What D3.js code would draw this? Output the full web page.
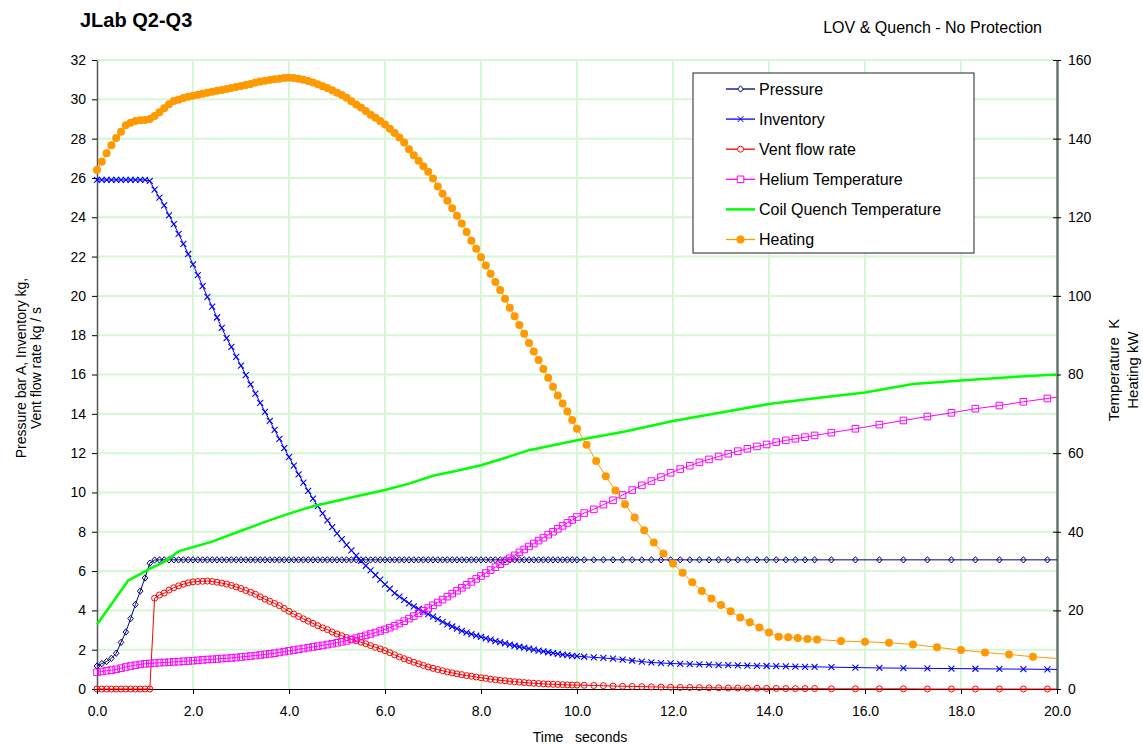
<!DOCTYPE html>
<html>
<head>
<meta charset="utf-8">
<script src="https://cdn.jsdelivr.net/npm/d3@7"></script>
<style>
  body { margin: 0; background: #fff; }
  svg { font-family: "Liberation Sans", Arial, sans-serif; }
</style>
</head>
<body>
<div id="chart"></div>
<script>
// time grid of the solver output (seconds)
var timeFine = [
  0,0.1,0.2,0.3,0.4,0.5,0.6,0.7,0.8,0.9,
  1,1.1,1.2,1.3,1.4,1.5,1.6,1.7,1.8,1.9,
  2,2.1,2.2,2.3,2.4,2.5,2.6,2.7,2.8,2.9,
  3,3.1,3.2,3.3,3.4,3.5,3.6,3.7,3.8,3.9,
  4,4.1,4.2,4.3,4.4,4.5,4.6,4.7,4.8,4.9,
  5,5.1,5.2,5.3,5.4,5.5,5.6,5.7,5.8,5.9,
  6,6.1,6.2,6.3,6.4,6.5,6.6,6.7,6.8,6.9,
  7,7.1,7.2,7.3,7.4,7.5,7.6,7.7,7.8,7.9,
  8,8.1,8.2,8.3,8.4,8.5,8.6,8.7,8.8,8.9,
  9,9.1,9.2,9.3,9.4,9.5,9.6,9.7,9.8,9.9,
  10
];
var timeMain = timeFine.concat([
  10.15,10.35,10.55,10.75,10.95,11.15,11.35,11.55,11.75,11.95,12.15,12.35,12.55,
  12.75,12.95,13.15,13.35,13.55,13.75,13.95,14.15,14.35,14.55,14.75,14.95,
  15.3,15.8,16.3,16.8,17.3,17.8,18.3,18.8,19.3,19.8,20.3
]);
var timeHeat = timeFine.concat([
  10.2,10.4,10.6,10.8,11,11.2,11.4,11.6,11.8,12,12.2,12.4,12.6,
  12.8,13,13.2,13.4,13.6,13.8,14,14.2,14.4,14.6,14.8,15,
  15.5,16,16.5,17,17.5,18,18.5,19,19.5,20.5
]);

// left axis series
var pressure = [
  1.17,1.29,1.4,1.56,1.82,2.37,2.9,3.58,4.3,4.98,
  5.65,6.4,6.56,6.57,6.57,6.57,6.57,6.57,6.57,6.57,
  6.57,6.57,6.57,6.57,6.57,6.57,6.57,6.57,6.57,6.57,
  6.57,6.57,6.57,6.57,6.57,6.57,6.57,6.57,6.57,6.57,
  6.57,6.57,6.57,6.57,6.57,6.57,6.57,6.57,6.57,6.57,
  6.57,6.57,6.57,6.57,6.57,6.57,6.57,6.57,6.57,6.57,
  6.57,6.57,6.57,6.57,6.57,6.57,6.57,6.57,6.57,6.57,
  6.57,6.57,6.57,6.57,6.57,6.57,6.57,6.57,6.57,6.57,
  6.57,6.57,6.57,6.57,6.57,6.57,6.57,6.57,6.57,6.57,
  6.57,6.57,6.57,6.57,6.57,6.57,6.57,6.57,6.57,6.57,
  6.57,
  6.57,6.57,6.57,6.57,6.57,6.57,6.57,6.57,6.57,6.57,6.57,6.57,6.57,
  6.57,6.57,6.57,6.57,6.57,6.57,6.57,6.57,6.57,6.57,6.57,6.57,
  6.57,6.57,6.57,6.57,6.57,6.57,6.57,6.57,6.57,6.57,6.57
];
var inventory = [
  25.9,25.9,25.9,25.9,25.9,25.9,25.9,25.9,25.9,25.9,
  25.9,25.85,25.4,25.0,24.6,24.1,23.65,23.15,22.65,22.13,
  21.6,21.05,20.5,19.95,19.45,18.9,18.37,17.85,17.4,16.9,
  16.45,15.97,15.5,15.03,14.56,14.1,13.64,13.18,12.72,12.26,
  11.8,11.36,10.92,10.5,10.08,9.68,9.3,8.93,8.58,8.24,
  7.92,7.62,7.33,7.05,6.78,6.52,6.27,6.03,5.8,5.57,
  5.32,5.1,4.88,4.7,4.53,4.36,4.2,4.07,3.94,3.81,
  3.68,3.55,3.42,3.29,3.18,3.07,2.96,2.87,2.79,2.72,
  2.65,2.58,2.51,2.44,2.38,2.32,2.26,2.2,2.15,2.1,
  2.05,2.0,1.95,1.91,1.87,1.83,1.79,1.75,1.72,1.69,
  1.67,
  1.64,1.61,1.58,1.54,1.5,1.45,1.39,1.35,1.32,1.3,1.28,1.27,1.25,
  1.24,1.22,1.21,1.2,1.19,1.18,1.17,1.16,1.15,1.14,1.13,1.13,
  1.11,1.09,1.07,1.06,1.05,1.04,1.03,1.02,1.01,1.0,0.99
];
var ventFlow = [
  0,0,0,0,0,0,0,0,0,0,
  0,0,4.62,4.78,4.88,5.03,5.15,5.25,5.33,5.4,
  5.45,5.47,5.48,5.49,5.47,5.43,5.39,5.34,5.27,5.19,
  5.11,5.01,4.92,4.82,4.69,4.57,4.46,4.35,4.24,4.1,
  3.95,3.81,3.69,3.57,3.45,3.34,3.22,3.11,3.02,2.9,
  2.8,2.71,2.62,2.53,2.46,2.38,2.3,2.21,2.12,2.04,
  1.95,1.85,1.74,1.63,1.54,1.45,1.36,1.28,1.2,1.12,
  1.05,0.99,0.93,0.87,0.82,0.77,0.73,0.68,0.65,0.61,
  0.57,0.54,0.5,0.47,0.44,0.42,0.39,0.37,0.35,0.33,
  0.31,0.29,0.28,0.26,0.25,0.24,0.23,0.22,0.21,0.2,
  0.2,
  0.19,0.18,0.17,0.15,0.14,0.13,0.12,0.11,0.1,0.09,0.08,0.08,0.07,
  0.06,0.06,0.05,0.05,0.04,0.04,0.03,0.03,0.02,0.02,0.02,0.02,
  0.01,0.01,0.01,0.01,0,0,0,0,0,0,0
];

// right axis series
var heliumTemp = [
  4.25,4.45,4.65,4.8,5.0,5.3,5.6,5.85,6.05,6.25,
  6.4,6.5,6.6,6.7,6.75,6.8,6.9,6.95,7.05,7.1,
  7.2,7.3,7.4,7.5,7.55,7.65,7.75,7.8,7.9,8.0,
  8.15,8.25,8.4,8.5,8.65,8.8,8.95,9.1,9.3,9.5,
  9.7,9.9,10.1,10.3,10.5,10.7,10.9,11.1,11.3,11.5,
  11.75,12.0,12.25,12.6,12.95,13.3,13.65,14.0,14.35,14.75,
  15.15,15.6,16.1,16.65,17.25,17.9,18.55,19.25,19.9,20.6,
  21.3,22.0,22.75,23.5,24.25,25.0,25.75,26.5,27.25,28.0,
  28.75,29.5,30.25,31.0,31.75,32.5,33.25,34.0,34.75,35.5,
  36.25,37.0,37.75,38.5,39.25,40.0,40.75,41.5,42.25,43.0,
  43.75,
  44.75,45.7,46.9,48.0,49.35,50.6,51.8,52.9,53.9,55.0,55.95,56.8,57.65,
  58.4,59.15,59.85,60.5,61.1,61.7,62.2,62.8,63.25,63.65,64.05,64.5,
  65.2,66.2,67.25,68.3,69.3,70.25,71.3,72.1,73.05,73.9,74.7
];
var coilTime = [0,0.65,0.9,1.1,1.4,1.7,2,2.4,3,3.5,4,4.5,5,5.5,6,6.5,7,7.5,8,8.5,9,9.5,10,11,12,13,14,15,16,17,18,19,20];
var coilTemp = [16.4,27.6,29.2,30.6,32.35,35.0,36.1,37.5,40.25,42.5,44.6,46.5,47.9,49.3,50.6,52.25,54.25,55.5,56.9,58.75,60.75,62.0,63.25,65.5,68.15,70.35,72.5,74.0,75.4,77.6,78.45,79.3,80.0];
var heating = [
  132,134.1,136.3,138.3,140.15,141.75,143.4,144.05,144.5,144.65,
  144.75,145,145.75,146.7,147.7,148.75,149.55,149.9,150.35,150.65,
  150.9,151.15,151.4,151.65,151.9,152.15,152.4,152.65,152.9,153.15,
  153.4,153.65,153.9,154.25,154.5,154.7,154.9,155.1,155.25,155.4,
  155.5,155.45,155.25,155.0,154.65,154.25,153.8,153.35,152.85,152.3,
  151.7,151.1,150.4,149.5,148.7,147.9,147.05,146.1,145.3,144.5,
  143.6,142.5,141.4,140.3,139.0,137.3,135.75,134.4,133.0,131.55,
  129.85,127.85,126.0,124.2,122.3,120.35,118.4,116.25,114.0,112.0,
  109.85,107.75,105.65,103.5,101.5,99.25,97.0,94.8,92.6,90.35,
  88.0,85.85,83.7,81.4,79.15,76.9,74.65,72.6,70.6,68.4,
  66.2,
  62.15,58.0,54.1,50.5,47.0,43.6,40.4,37.25,34.45,31.9,29.55,27.15,24.95,
  23.05,21.35,19.8,18.2,16.95,15.65,14.4,13.3,13.15,12.95,12.75,12.6,
  12.2,12.0,11.75,11.35,10.6,9.9,9.3,8.8,8.2,7.3
];

var xTicks = [0,2,4,6,8,10,12,14,16,18,20];
var leftTicks = [0,2,4,6,8,10,12,14,16,18,20,22,24,26,28,30,32];
var rightTicks = [0,20,40,60,80,100,120,140,160];
var legendNames = ["Pressure","Inventory","Vent flow rate","Helium Temperature","Coil Quench Temperature","Heating"];

var svgWidth = 1143;
var svgHeight = 745;
var margin = { top: 60, right: 86, bottom: 56, left: 97 };
var width = svgWidth - margin.left - margin.right;
var height = svgHeight - margin.top - margin.bottom;

var svg = d3.select("#chart").append("svg")
  .attr("width", svgWidth)
  .attr("height", svgHeight);

var chartGroup = svg.append("g")
  .attr("transform", `translate(${margin.left}, ${margin.top})`);

var xScale = d3.scaleLinear().domain([0, 20]).range([0, width]);
var yLeft = d3.scaleLinear().domain([0, 32]).range([height, 0]);
var yRight = d3.scaleLinear().domain([0, 160]).range([height, 0]);

// grid
chartGroup.append("g").selectAll("line")
  .data(leftTicks.filter(d => d > 0))
  .enter().append("line")
  .attr("x1", 0).attr("x2", width)
  .attr("y1", d => yLeft(d)).attr("y2", d => yLeft(d))
  .attr("stroke", "#d6f7d6").attr("stroke-width", 2);
chartGroup.append("g").selectAll("line")
  .data(xTicks.filter(d => d > 0 && d < 20))
  .enter().append("line")
  .attr("y1", 0).attr("y2", height)
  .attr("x1", d => xScale(d)).attr("x2", d => xScale(d))
  .attr("stroke", "#d6f7d6").attr("stroke-width", 2);

// axes
var xAxis = chartGroup.append("g")
  .attr("transform", `translate(0, ${height})`)
  .call(d3.axisBottom(xScale).tickValues(xTicks).tickFormat(d3.format(".1f"))
    .tickSize(5).tickSizeOuter(0).tickPadding(12));
xAxis.select(".domain").attr("stroke", "#000");

var leftAxis = chartGroup.append("g")
  .call(d3.axisLeft(yLeft).tickValues(leftTicks).tickSize(5).tickSizeOuter(0).tickPadding(6));
leftAxis.select(".domain").attr("stroke", "#555").attr("stroke-width", 1.5);

var rightAxis = chartGroup.append("g")
  .attr("transform", `translate(${width}, 0)`)
  .call(d3.axisRight(yRight).tickValues(rightTicks).tickSize(4).tickSizeOuter(0).tickPadding(7));
rightAxis.select(".domain").attr("stroke", "#66756a").attr("stroke-width", 2.5);
rightAxis.selectAll(".tick line").attr("x1", -4);

svg.selectAll(".tick text")
  .attr("font-family", "Liberation Sans, Arial, sans-serif")
  .attr("font-size", "14px").attr("fill", "#000");

// series
chartGroup.append("clipPath").attr("id", "plotClip")
  .append("rect").attr("x", -10).attr("y", -10)
  .attr("width", width + 10).attr("height", height + 20);

var plot = chartGroup.append("g").attr("clip-path", "url(#plotClip)");

var markerShapes = {
  diamond: "M0,-3.2L2.8,0L0,3.2L-2.8,0Z",
  cross: "M-3,-3L3,3M-3,3L3,-3",
  square: "M-3.3,-3.3H3.3V3.3H-3.3Z"
};

function drawSeries(times, values, yScale, color, opts) {
  var pts = times.map((t, i) => [t, values[i]]);
  var line = d3.line().x(d => xScale(d[0])).y(d => yScale(d[1]));
  plot.append("path")
    .datum(pts)
    .attr("fill", "none")
    .attr("stroke", color)
    .attr("stroke-width", opts.lineWidth || 1)
    .attr("d", line);
  if (!opts.marker) return;
  var g = plot.append("g");
  if (opts.marker === "circle" || opts.marker === "dot") {
    g.selectAll("circle").data(pts).enter().append("circle")
      .attr("cx", d => xScale(d[0]))
      .attr("cy", d => yScale(d[1]))
      .attr("r", opts.marker === "dot" ? 4 : 3)
      .attr("fill", opts.marker === "dot" ? color : "none")
      .attr("stroke", opts.marker === "dot" ? "none" : color)
      .attr("stroke-width", 1);
  } else {
    g.selectAll("path").data(pts).enter().append("path")
      .attr("d", markerShapes[opts.marker])
      .attr("transform", d => `translate(${xScale(d[0])}, ${yScale(d[1])})`)
      .attr("fill", "none")
      .attr("stroke", color)
      .attr("stroke-width", opts.marker === "cross" ? 1.1 : 1);
  }
}

drawSeries(timeMain, pressure, yLeft, "#000080", { marker: "diamond" });
drawSeries(timeMain, inventory, yLeft, "#0000ff", { marker: "cross" });
drawSeries(timeMain, ventFlow, yLeft, "#ff0000", { marker: "circle" });
drawSeries(timeMain, heliumTemp, yRight, "#ff00ff", { marker: "square" });
drawSeries(coilTime, coilTemp, yRight, "#00ff00", { lineWidth: 2.5 });
drawSeries(timeHeat, heating, yRight, "#ff9900", { marker: "dot" });

// legend
var legendStyles = [
  { color: "#000080", marker: "diamond" },
  { color: "#0000ff", marker: "cross" },
  { color: "#ff0000", marker: "circle" },
  { color: "#ff00ff", marker: "square" },
  { color: "#00ff00", marker: null },
  { color: "#ff9900", marker: "dot" }
];
var legend = svg.append("g").attr("transform", "translate(693, 73)");
legend.append("rect")
  .attr("width", 281).attr("height", 180)
  .attr("fill", "#fff").attr("stroke", "#222").attr("stroke-width", 1);
legendNames.forEach((name, i) => {
  var st = legendStyles[i];
  var row = legend.append("g").attr("transform", `translate(0, ${16 + i * 30.1})`);
  row.append("line").attr("x1", 33).attr("x2", 62)
    .attr("stroke", st.color).attr("stroke-width", st.marker ? 1.3 : 2.5);
  if (st.marker === "circle" || st.marker === "dot") {
    row.append("circle").attr("cx", 47.5).attr("r", st.marker === "dot" ? 4 : 3)
      .attr("fill", st.marker === "dot" ? st.color : "#fff")
      .attr("stroke", st.marker === "dot" ? "none" : st.color);
  } else if (st.marker) {
    row.append("path").attr("d", markerShapes[st.marker])
      .attr("transform", "translate(47.5, 0)")
      .attr("fill", st.marker === "cross" ? "none" : "#fff")
      .attr("stroke", st.color);
  }
  row.append("text").attr("x", 66).attr("y", 5.5)
    .attr("font-size", "16px").attr("fill", "#000").text(name);
});

// titles
svg.append("text").attr("x", 80).attr("y", 27)
  .attr("font-size", "20px").attr("font-weight", "bold").text("JLab Q2-Q3");
svg.append("text").attr("x", 1042).attr("y", 33).attr("text-anchor", "end")
  .attr("font-size", "16px").text("LOV & Quench - No Protection");
svg.append("text").attr("x", 580).attr("y", 742).attr("text-anchor", "middle")
  .attr("font-size", "14px").attr("xml:space", "preserve").text("Time   seconds");

svg.append("text").attr("transform", "translate(26, 368) rotate(-90)")
  .attr("text-anchor", "middle").attr("font-size", "14px")
  .text("Pressure bar A, Inventory kg,");
svg.append("text").attr("transform", "translate(41, 368) rotate(-90)")
  .attr("text-anchor", "middle").attr("font-size", "14px")
  .text("Vent flow rate kg / s");

svg.append("text").attr("transform", "translate(1119, 370) rotate(-90)")
  .attr("text-anchor", "middle").attr("font-size", "15px").attr("xml:space", "preserve")
  .text("Temperature  K");
svg.append("text").attr("transform", "translate(1138, 370) rotate(-90)")
  .attr("text-anchor", "middle").attr("font-size", "15px")
  .text("Heating kW");
</script>
</body>
</html>
